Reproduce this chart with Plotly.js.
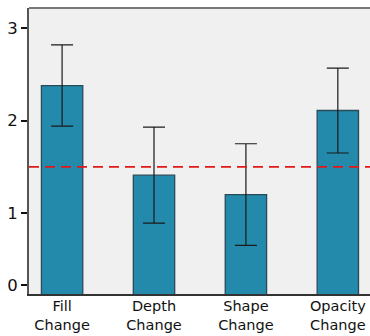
<!DOCTYPE html>
<html><head><meta charset="utf-8">
<script src="https://cdn.plot.ly/plotly-3.0.1.min.js"></script>
<style>html,body{margin:0;padding:0;background:#fff}</style>
</head><body><div id="chart" style="width:370px;height:336px"></div>
<script>
var categories = ["Fill<br>Change", "Depth<br>Change", "Shape<br>Change", "Opacity<br>Change"];
var means = [2.38, 1.41, 1.20, 2.11];
var errors = [0.44, 0.52, 0.55, 0.46];
var reference = 1.5;
var tickValues = [0.22, 1, 2, 3];
var tickLabels = ["0", "1", "2", "3"];

var trace = {
  type: "bar",
  x: categories,
  y: means,
  width: 0.45,
  marker: {color: "#238aab", line: {color: "#2b4a58", width: 1.3}},
  error_y: {type: "data", array: errors, visible: true, color: "#1a1a1a", thickness: 1.2, width: 11}
};
var layout = {
  width: 370, height: 336,
  margin: {l: 29, r: 0, t: 8, b: 42},
  paper_bgcolor: "#fff",
  plot_bgcolor: "#f0f0f0",
  font: {family: "DejaVu Sans, Verdana, sans-serif", size: 15, color: "#111"},
  showlegend: false,
  xaxis: {range: [-0.36, 3.35], showline: true, linecolor: "#333", linewidth: 1.5,
          ticks: "", showgrid: false, zeroline: false, ticklabelstandoff: -2,
          tickfont: {size: 14.5, color: "#111"}},
  yaxis: {range: [0.123, 3.22], tickvals: tickValues, ticktext: tickLabels,
          showline: true, linecolor: "#555", linewidth: 2, ticks: "outside",
          ticklen: 6, tickwidth: 2, tickcolor: "#111", showgrid: false, zeroline: false,
          tickfont: {size: 16.5, color: "#111"}},
  shapes: [
    {type: "line", xref: "paper", yref: "y", x0: 0, x1: 1, y0: reference, y1: reference,
     line: {color: "#e01818", width: 1.8, dash: "10px,6px"}},
    {type: "line", xref: "paper", yref: "paper", x0: 0, x1: 1, y0: 1, y1: 1,
     line: {color: "#777", width: 2}}
  ]
};
Plotly.newPlot("chart", [trace], layout, {displayModeBar: false, staticPlot: true});
</script></body></html>
